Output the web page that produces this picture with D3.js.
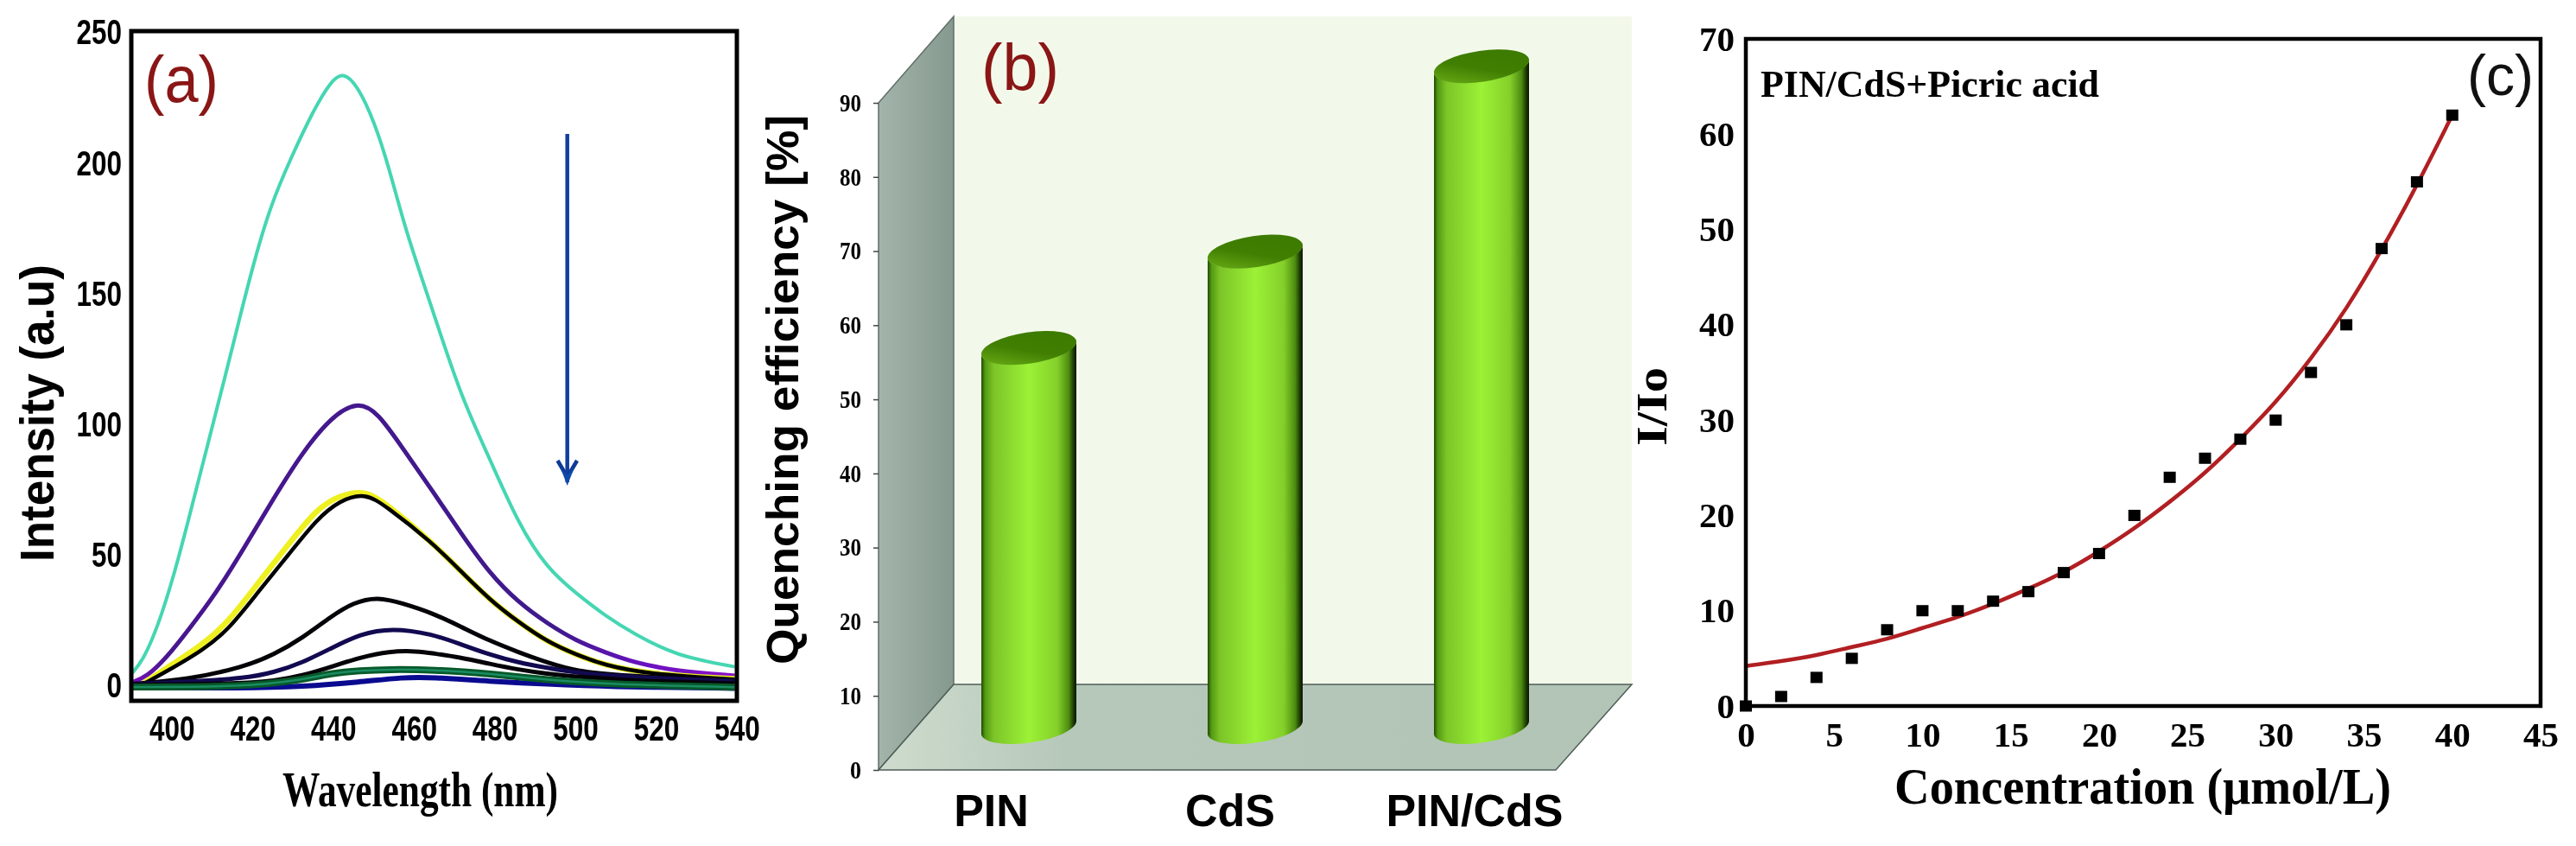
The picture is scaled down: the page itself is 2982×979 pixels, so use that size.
<!DOCTYPE html>
<html><head><meta charset="utf-8">
<script src="https://cdnjs.cloudflare.com/ajax/libs/d3/7.8.5/d3.min.js"></script>
<style>html,body{margin:0;padding:0;background:#fff}svg{display:block;filter:blur(0.6px)}</style></head>
<body><svg id="c" width="2982" height="979"></svg>
<script>
// ---------- Panel (a) ----------
const xTicksA=[400,420,440,460,480,500,520,540];
const yTicksA=[0,50,100,150,200,250];
const teal=[[390,4.6],[393,10],[396.7,23.4],[400.3,41],[403.9,62],[408.8,91.7],[413.5,120],[416.7,140],[420.3,162],[424.5,184],[429.5,202],[435.2,220.7],[439.5,231.6],[442.4,235],[446,230],[450.2,216],[453.8,198.7],[458,174],[464.5,144.6],[471.6,111],[478.8,87],[485.9,62],[493,45],[500.2,35.5],[507.3,27],[514.5,20],[525,11.5],[539.5,7.4]];
const purple=[[390,1.3],[393.9,3.6],[398.8,11],[403.9,21],[411,35.5],[418,53],[425.3,72],[432.4,89.5],[439.5,103],[445.9,109],[451,105],[457.4,90.6],[464.5,75],[471.6,58.6],[478.8,43],[485.9,32],[493,24],[500.2,17.3],[507.3,13],[514.5,9],[525,5.7],[539.5,4]];
const yellow=[[393,1],[400.3,8.5],[407.3,15.5],[413.8,24],[421.7,40],[428.8,54],[436,68],[441.6,73],[447.8,75],[453,70],[464.5,55],[471.6,44],[478.8,33],[485.9,24.5],[493,17],[500.2,12],[507.3,8],[518,4.6],[539.5,2.8]];
const black1=[[393,0.8],[400.3,7],[407.3,13.4],[413.8,21],[421.7,36.6],[428.8,50],[436,64],[441.6,71],[447.8,74],[453,69],[464.5,55],[471.6,44],[478.8,33],[485.9,24.5],[493,17],[500.2,12],[507.3,8],[518,4.6],[539.5,2.6]];
const black2=[[390,0.8],[403.9,2.4],[418,7.4],[425.3,12],[432.4,18.4],[439.5,26.7],[445,32],[451,34.2],[457.4,31.6],[464.5,28],[471.6,22.8],[478.8,17.3],[485.9,13],[493,9],[500.2,5.7],[511,4],[539.5,2]];
const navy=[[390,0.8],[403.9,1.6],[418,3],[425.3,5.2],[432.4,9],[439.5,14.5],[446.7,20],[454.5,22.3],[464.5,20],[471.6,16],[478.8,12],[485.9,9],[493,7],[500.2,5],[514.5,3.3],[539.5,2]];
const black3=[[390,0.5],[418,1],[425.3,2],[432.4,4],[439.5,7.4],[446.7,11],[453.8,13.4],[461,13.4],[464.5,12.6],[471.6,11],[478.8,8.5],[485.9,6.3],[493,4.7],[500.2,3.6],[514.5,2],[539.5,1]];
const blue=[[390,-0.5],[418,-0.8],[432.4,-0.2],[446.7,1.6],[457.4,3.4],[464.5,3.4],[478.8,1.8],[493,0.8],[507.3,-0.2],[539.5,-0.8]];
const green=[[390,-0.3],[418,-0.3],[432.4,2.4],[439.5,5],[446.7,6],[453.8,6.4],[464.5,6.3],[480,4.6],[493,2.4],[507.3,0.8],[539.5,-0.4]];
const seriesA=[
 {d:teal,c:"#45d6b2",w:4},{d:purple,c:"url(#purpleGrad)",w:5},{d:yellow,c:"#eef020",w:6.5},
 {d:black1,c:"#000",w:4.5},{d:black2,c:"#050208",w:5},{d:navy,c:"#120a50",w:5},{d:black3,c:"#050208",w:5},
 {d:blue,c:"#0a0a90",w:6},{d:green,c:"#07592a",w:8},{d:green,c:"#1b8c62",w:2.5}];
// ---------- Panel (b) ----------
const categoriesB=["PIN","CdS","PIN/CdS"];
const valuesB=[56,69,94];
const yTicksB=[0,10,20,30,40,50,60,70,80,90];
// ---------- Panel (c) ----------
const xTicksC=[0,5,10,15,20,25,30,35,40,45];
const yTicksC=[0,10,20,30,40,50,60,70];
const concentration=[0,2,4,6,8,10,12,14,16,18,20,22,24,26,28,30,32,34,36,38,40];
const ratio=[0,1,3,5,8,10,10,11,12,14,16,20,24,26,28,30,35,40,48,55,62];
const fitY=[4.2,4.7,5.3,6.2,7,8.2,9.3,10.7,12.3,14,16.2,18.6,21.4,24.4,28,31.8,36.4,41.6,47.8,54.6,62];

const SANS='"Liberation Sans",Arial,sans-serif';
const SERIF='"Liberation Serif","Times New Roman",serif';
const svg=d3.select("#c");
const defs=svg.append("defs");
function text(s,x,y,o){
  const t=svg.append("text").attr("x",x).attr("y",y).text(s)
   .attr("font-family",o.f).attr("font-size",o.s).attr("font-weight",o.b?"bold":"normal")
   .attr("fill",o.c||"#000").attr("text-anchor",o.a||"start");
  if(o.len)t.attr("textLength",o.len).attr("lengthAdjust","spacingAndGlyphs");
  if(o.rot)t.attr("transform",`rotate(-90 ${x} ${y})`);
  return t;
}
function styleAxis(g,font,size,perDigit){
  g.select(".domain").remove();
  g.selectAll(".tick line").remove();
  const t=g.selectAll("text").attr("font-family",font).attr("font-size",size).attr("font-weight","bold").attr("fill","#000");
  if(perDigit)t.attr("textLength",d=>String(d).length*perDigit).attr("lengthAdjust","spacingAndGlyphs");
}

// ===== (a)
const xa=d3.scaleLinear().domain([390,540]).range([152,853]);
const ya=d3.scaleLinear().domain([0,250]).range([794,38]);
const pg=defs.append("linearGradient").attr("id","purpleGrad").attr("gradientUnits","userSpaceOnUse")
  .attr("x1",xa(390)).attr("x2",xa(540)).attr("y1",0).attr("y2",0);
[[0,"#7a12b8"],[0.06,"#48168f"],[0.7,"#3f1a8c"],[0.85,"#6a12c0"],[1,"#8a10c8"]].forEach(s=>pg.append("stop").attr("offset",s[0]).attr("stop-color",s[1]));
defs.append("clipPath").attr("id","clipA").append("rect").attr("x",152).attr("y",38).attr("width",701).attr("height",773);
const lineA=d3.line().x(d=>xa(d[0])).y(d=>ya(d[1])).curve(d3.curveBasis);
svg.append("g").attr("clip-path","url(#clipA)").selectAll("path").data(seriesA).join("path")
  .attr("d",d=>lineA(d.d)).attr("fill","none").attr("stroke",d=>d.c).attr("stroke-width",d=>d.w);
svg.append("rect").attr("x",152).attr("y",36).attr("width",701).attr("height",775).attr("fill","none").attr("stroke","#000").attr("stroke-width",5);
svg.append("g").attr("transform","translate(145,0)").call(d3.axisLeft(ya).tickValues(yTicksA).tickSize(0).tickPadding(4))
  .call(g=>styleAxis(g,SANS,40,17.5));
svg.append("g").attr("transform","translate(0,829)").call(d3.axisBottom(xa).tickValues(xTicksA).tickSize(0).tickPadding(0))
  .call(g=>styleAxis(g,SANS,40,17.5));
text("Intensity (a.u)",62,650,{f:SANS,s:56,b:1,rot:1,len:344});
text("Wavelength (nm)",327,933,{f:SERIF,s:57,b:1,len:319});
text("(a)",167,118,{f:SANS,s:76,c:"#8a1616",len:86});
// arrow
svg.append("path").attr("d","M656.7,155V558").attr("stroke","#123f9e").attr("stroke-width",4.5).attr("fill","none");
svg.append("path").attr("d","M645.5,533L656.7,552L668,533").attr("stroke","#0f3a96").attr("stroke-width",4.5).attr("fill","none");
svg.append("path").attr("d","M649,542L656.7,562L664.5,542L656.7,549Z").attr("fill","#0f4aa8");

// ===== (b)
const yb=d3.scaleLinear().domain([0,90]).range([891,119]);
const xb=d3.scalePoint().domain(categoriesB).range([1191,1715]);
const side=defs.append("linearGradient").attr("id","sideGrad").attr("x1",0).attr("x2",1).attr("y1",0).attr("y2",0);
side.append("stop").attr("offset",0).attr("stop-color","#a3b5aa");side.append("stop").attr("offset",1).attr("stop-color","#86998f");
const floor=defs.append("linearGradient").attr("id","floorGrad").attr("x1",0).attr("x2",1).attr("y1",0).attr("y2",0);
floor.append("stop").attr("offset",0).attr("stop-color","#cfdccd");floor.append("stop").attr("offset",0.25).attr("stop-color","#b6c8ba");floor.append("stop").attr("offset",1).attr("stop-color","#b2c4b6");
svg.append("polygon").attr("points","1104,19 1889,19 1889,792 1104,792").attr("fill","#f3f9ea");
svg.append("polygon").attr("points","1017,119 1104,19 1104,792 1017,891").attr("fill","url(#sideGrad)").attr("stroke","#5f6f68").attr("stroke-width",1.5);
svg.append("polygon").attr("points","1017,891 1104,792 1889,792 1801,891").attr("fill","url(#floorGrad)").attr("stroke","#4e5e58").attr("stroke-width",1.5);
const cyl=defs.append("linearGradient").attr("id","cylGrad").attr("x1",0).attr("x2",1).attr("y1",0).attr("y2",0);
[[0,"#1f4a00"],[0.04,"#549a12"],[0.13,"#7cc428"],[0.5,"#9cf236"],[0.8,"#84cf2a"],[0.92,"#4d8c10"],[0.97,"#1c3a02"],[1,"#081400"]].forEach(s=>cyl.append("stop").attr("offset",s[0]).attr("stop-color",s[1]));
const capG=defs.append("linearGradient").attr("id","capGrad").attr("x1",0).attr("x2",1).attr("y1",1).attr("y2",0);
capG.append("stop").attr("offset",0).attr("stop-color","#6fb41a");capG.append("stop").attr("offset",0.45).attr("stop-color","#417f02");capG.append("stop").attr("offset",1).attr("stop-color","#3a7800");
const R=55,TILT=8,RX=55.6,RY=18,ROT=-8.3,BASE=49;
const cyls=svg.append("g").selectAll("g").data(categoriesB.map((c,i)=>({c,v:valuesB[i]}))).join("g");
cyls.append("path").attr("fill","url(#cylGrad)").attr("d",d=>{
  const cx=xb(d.c),top=yb(d.v)-TILT,bot=yb(0)-BASE;
  return `M${cx-R},${top+TILT}L${cx-R},${bot+TILT}A${RX},${RY} ${ROT} 0 0 ${cx+R},${bot-TILT}L${cx+R},${top-TILT}A${RX},${RY} ${ROT} 0 1 ${cx-R},${top+TILT}Z`;
});
cyls.append("ellipse").attr("cx",d=>xb(d.c)).attr("cy",d=>yb(d.v)-TILT).attr("rx",RX).attr("ry",RY)
  .attr("transform",d=>`rotate(${ROT} ${xb(d.c)} ${yb(d.v)-TILT})`).attr("fill","url(#capGrad)");
svg.append("g").attr("transform","translate(1017,0)").call(d3.axisLeft(yb).tickValues(yTicksB).tickSize(6).tickPadding(14))
  .call(g=>{g.select(".domain").remove();g.selectAll(".tick line").attr("stroke","#444").attr("stroke-width",1.5);
    g.selectAll("text").attr("font-family",SERIF).attr("font-size",29).attr("font-weight","bold").attr("fill","#000")
     .attr("textLength",t=>t===0?13:25).attr("lengthAdjust","spacingAndGlyphs");});
svg.append("g").attr("transform","translate(0,956)").selectAll("text").data(categoriesB).join("text")
  .attr("x",(d,i)=>[1147.5,1424,1707][i]).attr("text-anchor","middle").text(d=>d)
  .attr("font-family",SANS).attr("font-weight","bold").attr("font-size",52).attr("fill","#000");
text("Quenching efficiency [%]",924,769,{f:SANS,s:52,b:1,rot:1,len:636});
text("(b)",1136,104,{f:SANS,s:76,c:"#8a1616",len:90});

// ===== (c)
const xc=d3.scaleLinear().domain([0,45]).range([2021,2941]);
const yc=d3.scaleLinear().domain([0,70]).range([817,45]);
svg.append("path").datum(concentration.map((x,i)=>[x,fitY[i]]))
  .attr("d",d3.line().x(d=>xc(d[0])).y(d=>yc(d[1])).curve(d3.curveBasis))
  .attr("fill","none").attr("stroke","#b11f22").attr("stroke-width",4.5);
svg.append("g").selectAll("rect").data(concentration.map((x,i)=>[x,ratio[i]])).join("rect")
  .attr("x",d=>xc(d[0])-7).attr("y",d=>yc(d[1])-6.5).attr("width",14).attr("height",13).attr("fill","#000");
svg.append("rect").attr("x",2021).attr("y",45).attr("width",920).attr("height",772).attr("fill","none").attr("stroke","#000").attr("stroke-width",4.5);
svg.append("g").attr("transform","translate(2012,0)").call(d3.axisLeft(yc).tickValues(yTicksC).tickSize(0).tickPadding(4))
  .call(g=>styleAxis(g,SERIF,41));
svg.append("g").attr("transform","translate(0,835)").call(d3.axisBottom(xc).tickValues(xTicksC).tickSize(0).tickPadding(0))
  .call(g=>styleAxis(g,SERIF,41));
text("Concentration (μmol/L)",2193,930,{f:SERIF,s:60,b:1,len:575});
text("I/Io",1929,516,{f:SERIF,s:50,b:1,rot:1,len:91});
text("PIN/CdS+Picric acid",2038,112,{f:SERIF,s:44,b:1,len:392});
text("(c)",2856,110,{f:SANS,s:66,c:"#111",len:77});
</script></body></html>
